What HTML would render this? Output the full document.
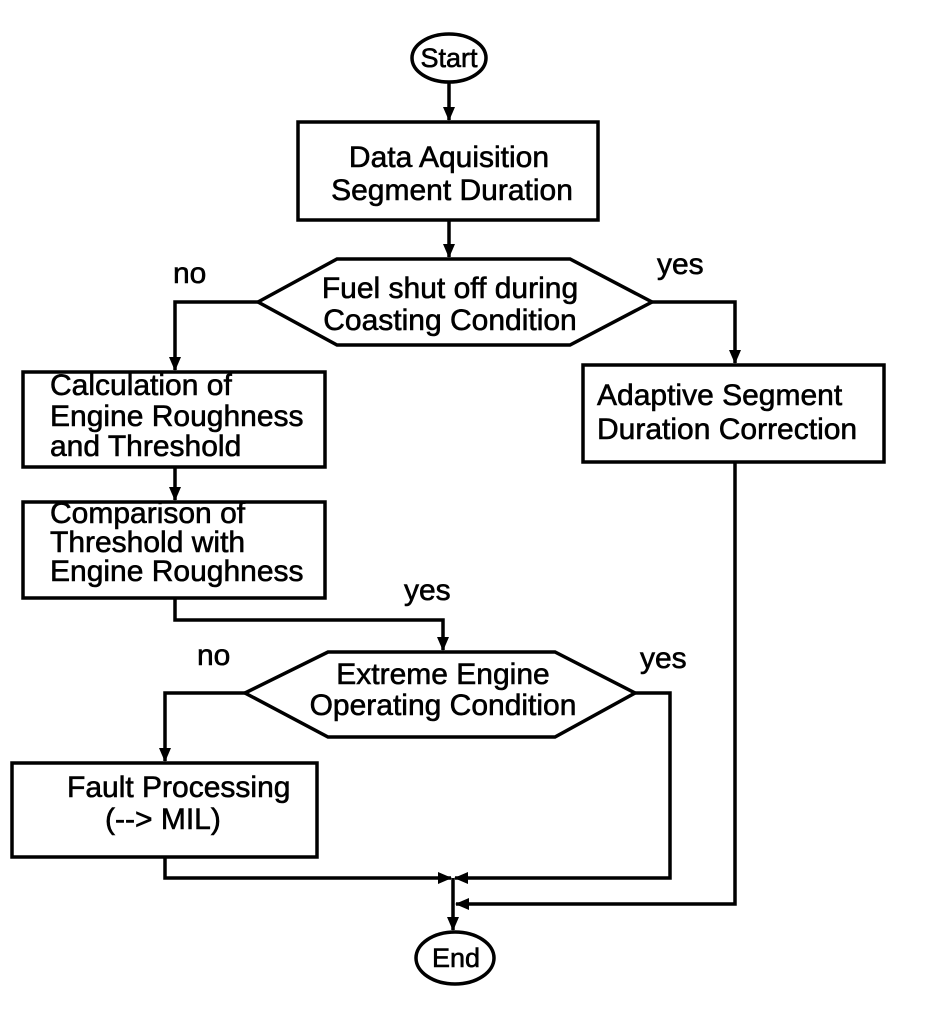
<!DOCTYPE html>
<html><head><meta charset="utf-8"><style>
html,body{margin:0;padding:0;background:#fff;}
svg{display:block;}
text{font-family:"Liberation Sans",Arial,sans-serif;font-size:30px;fill:#000;stroke:#000;stroke-width:0.6px;}
text.s{font-size:27px;}
</style></head><body>
<svg width="928" height="1018" viewBox="0 0 928 1018" xmlns="http://www.w3.org/2000/svg">
<defs>
<marker id="a" markerWidth="14" markerHeight="14" refX="13" refY="7" orient="auto" markerUnits="userSpaceOnUse" viewBox="0 0 14 14">
<path d="M0,1 L14,7 L0,13 z" fill="#000"/></marker>
</defs>
<g stroke="#000" stroke-width="3.5" fill="none">
<ellipse cx="449" cy="58" rx="37" ry="24"/>
<rect x="298" y="122" width="300" height="98"/>
<polygon points="258,302 337,259 570,259 652,302 570,345 337,345"/>
<rect x="23" y="372" width="302" height="95"/>
<rect x="583" y="365" width="301" height="97"/>
<rect x="23" y="502" width="302" height="96"/>
<polygon points="245,693 328,652 555,652 635,693 555,737 328,737"/>
<rect x="12" y="763" width="305" height="94"/>
<ellipse cx="455" cy="958" rx="39" ry="26"/>
</g>
<g stroke="#000" stroke-width="3.5" fill="none">
<line x1="449" y1="82" x2="449" y2="120" marker-end="url(#a)"/>
<line x1="449" y1="220" x2="449" y2="257" marker-end="url(#a)"/>
<polyline points="258,302 175,302 175,370" marker-end="url(#a)"/>
<polyline points="652,302 735,302 735,363" marker-end="url(#a)"/>
<line x1="175" y1="467" x2="175" y2="500" marker-end="url(#a)"/>
<polyline points="175,598 175,620 443,620 443,650" marker-end="url(#a)"/>
<polyline points="245,693 165,693 165,761" marker-end="url(#a)"/>
<polyline points="635,693 670,693 670,878 455,878" marker-end="url(#a)"/>
<polyline points="165,857 165,878 451,878" marker-end="url(#a)"/>
<polyline points="735,462 735,904 456,904" marker-end="url(#a)"/>
<line x1="453" y1="878" x2="453" y2="930" marker-end="url(#a)"/>
</g>
<text class="s" x="449" y="67" text-anchor="middle">Start</text>
<text x="449" y="167" text-anchor="middle">Data Aquisition</text>
<text x="452" y="200" text-anchor="middle">Segment Duration</text>
<text x="450" y="298" text-anchor="middle">Fuel shut off during</text>
<text x="450" y="330" text-anchor="middle">Coasting Condition</text>
<text x="173" y="283">no</text>
<text x="657" y="274">yes</text>
<text x="50" y="395">Calculation of</text>
<text x="50" y="426">Engine Roughness</text>
<text x="50" y="456">and Threshold</text>
<text x="597" y="405">Adaptive Segment</text>
<text x="597" y="439">Duration Correction</text>
<text x="50" y="523">Comparison of</text>
<text x="50" y="552">Threshold with</text>
<text x="50" y="581">Engine Roughness</text>
<text x="404" y="600">yes</text>
<text x="443" y="684" text-anchor="middle">Extreme Engine</text>
<text x="443" y="715" text-anchor="middle">Operating Condition</text>
<text x="197" y="665">no</text>
<text x="640" y="668">yes</text>
<text x="67" y="797">Fault Processing</text>
<text x="105" y="829">(--&gt; MIL)</text>
<text class="s" x="456" y="967" text-anchor="middle">End</text>
</svg>
</body></html>
